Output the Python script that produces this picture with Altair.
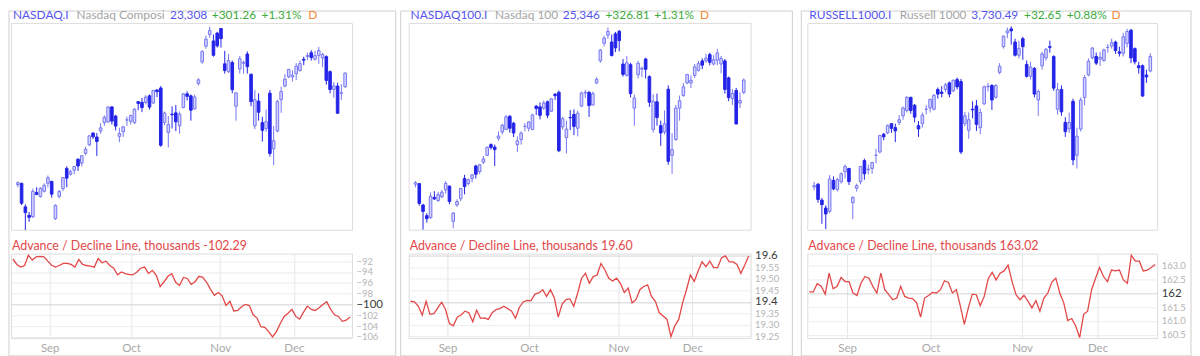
import altair as alt
import pandas as pd

# ---------------- data ----------------
MONTHS = ["Sep", "Oct", "Nov", "Dec"]
MONTH_TICKS = [9.5, 30.5, 53.5, 72.5]   # boundaries between trading days (index scale)

NASDAQ_O = [21600,21620,21260,21130,21110,21480,21420,21500,21620,21650,
            21080,21420,21540,21850,21760,21820,21990,21930,22080,22210,
            22390,22330,22420,22550,22560,22790,22650,22340,22410,22590,
            22570,22550,22870,22860,22860,22960,22850,23050,23080,22550,
            22400,22680,22700,22500,22780,22990,22960,22760,23150,23480,
            23720,23900,23800,23920,23990,23450,23330,23470,22800,23370,
            23460,23600,23290,22500,22880,22550,22460,23000,22150,22420,
            22900,23110,23250,23250,23300,23350,23520,23560,23620,23520,
            23580,23540,23560,23330,23060,23110,23000,23100]
NASDAQ_H = [21650,21630,21300,21180,21540,21560,21560,21620,21740,21660,
            21300,21520,21710,21880,21830,21880,22000,22050,22180,22350,
            22400,22390,22540,22660,22800,22800,22670,22470,22500,22640,
            22670,22770,22880,22930,22970,22980,23050,23060,23110,22720,
            22650,22800,22820,22720,23000,23030,22980,22980,23230,23660,
            23880,24020,23900,23940,24000,23650,23600,23500,23010,23570,
            23500,23640,23300,23050,23000,22640,22750,23050,22500,22900,
            23100,23290,23370,23350,23460,23500,23560,23620,23660,23650,
            23710,23620,23580,23350,23170,23160,23140,23320]
NASDAQ_L = [21560,21290,20906,21030,21090,21440,21400,21480,21560,21400,
            21060,21390,21500,21560,21740,21760,21810,21880,22050,22190,
            22300,22040,22380,22500,22550,22520,22430,22250,22330,22500,
            22520,22530,22740,22710,22830,22750,22840,22940,22180,22510,
            22170,22460,22420,22380,22770,22890,22580,22750,23120,23450,
            23680,23850,23560,23700,23700,23300,23310,23000,22580,23300,
            23300,23300,22800,22450,22580,22260,22410,22030,21900,22400,
            22700,23090,23230,23180,23200,23330,23430,23510,23500,23500,
            23450,23400,23130,23000,22930,22690,22900,23080]
NASDAQ_C = [21629,21315,21172,21100,21497,21449,21544,21590,21705,21455,
            21280,21497,21707,21700,21798,21879,21886,22043,22141,22348,
            22333,22261,22470,22631,22788,22573,22497,22384,22484,22591,
            22660,22755,22844,22780,22941,22788,23043,23024,22204,22695,
            22521,22670,22562,22680,22991,22953,22740,22942,23205,23637,
            23827,23958,23581,23725,23835,23349,23500,23054,23005,23528,
            23468,23406,22871,22901,22709,22432,22564,22078,22273,22872,
            23026,23215,23366,23276,23414,23454,23506,23578,23546,23576,
            23654,23594,23195,23057,23111,22693,23006,23308]

NDX_O = [23690,23700,23360,23190,23160,23480,23430,23490,23600,23660,
         23100,23360,23460,23780,23700,23780,23980,23890,24040,24150,
         24320,24280,24420,24520,24560,24770,24660,24320,24400,24610,
         24580,24560,24930,24920,24900,25000,24850,25120,25150,24600,
         24430,24750,24800,24580,24930,25140,25150,24950,25300,25650,
         25930,26060,25950,26080,26120,25600,25420,25590,24900,25430,
         25520,25680,25400,24560,25000,24620,24520,25200,24150,24400,
         24900,25100,25300,25300,25420,25500,25650,25650,25750,25600,
         25660,25600,25650,25380,25050,25180,24980,25150]
NDX_H = [23740,23710,23380,23230,23560,23580,23570,23600,23740,23670,
         23250,23450,23630,23840,23780,23850,24000,24010,24140,24290,
         24340,24320,24530,24650,24790,24790,24680,24450,24530,24660,
         24690,24810,24950,24990,25020,25020,25060,25140,25180,24760,
         24700,24870,24880,24860,25160,25190,25170,25160,25390,25840,
         26050,26180,26070,26110,26140,25680,25730,25620,25120,25650,
         25560,25700,25420,25120,25130,24700,24860,25260,24500,24950,
         25100,25300,25440,25420,25600,25650,25690,25760,25780,25740,
         25840,25730,25680,25400,25200,25220,25150,25370]
NDX_L = [23640,23350,22970,23080,23140,23440,23410,23470,23540,23370,
         22990,23330,23420,23530,23670,23720,23780,23850,24010,24140,
         24240,23980,24380,24480,24550,24510,24440,24200,24320,24530,
         24530,24550,24790,24720,24870,24740,24840,25030,24200,24560,
         24180,24550,24470,24450,24920,25060,24760,24940,25280,25620,
         25880,26000,25720,25790,25800,25400,25400,25070,24620,25370,
         25390,25370,24920,24510,24620,24300,24480,24000,23855,24380,
         24700,25080,25280,25220,25380,25480,25520,25620,25580,25580,
         25580,25450,25130,25010,24950,24640,24900,25120]
NDX_C = [23713,23385,23257,23143,23498,23457,23525,23565,23703,23415,
         23232,23415,23623,23653,23762,23839,23849,24000,24092,24276,
         24275,24240,24455,24626,24761,24580,24504,24380,24503,24611,
         24680,24791,24893,24785,24979,24786,25046,25098,24222,24733,
         24566,24746,24609,24818,25140,25150,24940,25130,25358,25822,
         26012,26119,25735,25858,25972,25435,25620,25130,25060,25612,
         25533,25517,24993,25008,24750,24504,24650,24054,24240,24900,
         25018,25237,25435,25342,25556,25607,25582,25693,25628,25668,
         25776,25688,25197,25067,25132,24648,25020,25346]

R1000_O = [3532,3536,3512,3500,3495,3542,3528,3540,3555,3560,
           3508,3530,3540,3572,3558,3560,3580,3585,3612,3614,
           3628,3622,3630,3640,3648,3668,3656,3625,3628,3650,
           3652,3650,3680,3676,3680,3690,3678,3695,3692,3628,
           3618,3650,3655,3622,3658,3684,3686,3668,3706,3745,
           3766,3772,3752,3732,3757,3718,3700,3712,3664,3716,
           3728,3745,3730,3650,3680,3630,3620,3662,3580,3620,
           3668,3702,3728,3730,3726,3724,3744,3746,3752,3737,
           3735,3750,3770,3742,3716,3716,3702,3708]
R1000_H = [3540,3538,3515,3504,3550,3548,3546,3554,3566,3561,
           3518,3537,3564,3575,3566,3570,3590,3611,3614,3627,
           3629,3628,3641,3654,3670,3669,3658,3632,3645,3656,
           3666,3673,3683,3685,3690,3692,3695,3698,3696,3646,
           3645,3662,3664,3651,3686,3690,3688,3688,3720,3762,
           3774,3776,3757,3754,3760,3724,3722,3714,3680,3737,
           3743,3754,3732,3690,3686,3638,3645,3666,3622,3668,
           3702,3727,3744,3736,3737,3742,3749,3757,3754,3745,
           3766,3772,3772,3744,3722,3718,3710,3735]
R1000_L = [3527,3508,3476,3468,3492,3527,3525,3537,3545,3535,
           3483,3525,3536,3543,3551,3552,3568,3583,3603,3612,
           3614,3600,3626,3634,3645,3643,3630,3608,3622,3642,
           3645,3648,3666,3668,3676,3668,3676,3680,3582,3624,
           3605,3636,3617,3612,3657,3677,3649,3666,3703,3742,
           3758,3748,3730,3727,3725,3698,3695,3668,3640,3710,
           3724,3736,3678,3642,3640,3608,3614,3565,3560,3616,
           3656,3700,3726,3717,3716,3722,3736,3742,3734,3730,
           3730,3744,3720,3718,3704,3669,3690,3706]
R1000_C = [3534,3513,3505,3491,3544,3529,3543,3552,3563,3540,
           3516,3534,3563,3552,3559,3569,3580,3610,3608,3625,
           3621,3617,3634,3652,3668,3648,3638,3620,3641,3650,
           3665,3671,3673,3674,3687,3673,3694,3684,3585,3640,
           3634,3649,3627,3645,3684,3685,3664,3686,3715,3761,
           3769,3769,3732,3742,3745,3700,3714,3673,3677,3734,
           3741,3744,3682,3680,3646,3616,3630,3573,3609,3664,
           3698,3723,3743,3720,3729,3740,3744,3751,3739,3735,
           3760,3768,3728,3722,3713,3670,3699,3730]

AD_NASDAQ = [-91.6,-92.6,-93.1,-92.8,-90.9,-91.8,-91.2,-91.1,-91.2,-92.0,
             -92.75,-93.1,-92.8,-92.4,-92.4,-92.6,-93.1,-91.7,-92.6,-92.8,
             -92.9,-93.1,-91.5,-92.3,-92.0,-92.8,-93.3,-94.5,-94.0,-94.3,
             -94.5,-94.5,-94.0,-93.3,-93.1,-94.3,-93.7,-94.6,-96.7,-95.8,
             -94.8,-94.3,-95.9,-96.5,-95.0,-95.2,-96.3,-95.8,-94.8,-95.0,
             -95.9,-97.2,-98.3,-97.8,-98.4,-100.2,-99.4,-101.2,-101.1,-100.4,
             -100.0,-100.2,-101.9,-102.5,-104.1,-104.2,-105.0,-106.0,-105.0,-103.5,
             -102.2,-101.6,-100.9,-102.2,-102.7,-101.4,-100.3,-100.9,-101.1,-100.6,
             -100.0,-99.5,-100.9,-101.9,-102.2,-103.1,-102.9,-102.29]
AD_NDX = [19.403,19.400,19.381,19.343,19.403,19.346,19.349,19.374,19.399,19.367,
          19.306,19.296,19.334,19.343,19.360,19.353,19.314,19.364,19.329,19.331,
          19.324,19.353,19.367,19.371,19.381,19.371,19.360,19.329,19.377,19.400,
          19.407,19.406,19.434,19.439,19.453,19.424,19.453,19.417,19.334,19.391,
          19.410,19.413,19.381,19.439,19.503,19.524,19.481,19.510,19.517,19.567,
          19.539,19.503,19.491,19.503,19.481,19.441,19.460,19.396,19.410,19.453,
          19.467,19.474,19.424,19.403,19.353,19.339,19.324,19.249,19.296,19.324,
          19.396,19.453,19.517,19.489,19.534,19.574,19.553,19.577,19.549,19.549,
          19.591,19.600,19.574,19.574,19.563,19.524,19.560,19.600]
AD_R1000 = [162.04,162.04,162.33,162.24,161.96,162.71,162.15,162.24,162.56,162.41,
            162.41,162.00,161.91,162.35,162.59,162.53,162.24,162.00,162.71,162.12,
            161.94,161.76,161.82,162.24,161.88,161.82,161.80,161.65,161.14,161.82,
            161.91,162.02,162.00,162.12,162.44,162.38,162.00,162.12,161.53,160.88,
            161.47,161.96,161.94,161.55,161.88,162.51,162.74,162.47,162.71,162.79,
            163.00,162.41,161.94,161.76,161.92,161.71,161.47,161.73,161.35,161.82,
            162.00,162.39,162.53,162.00,161.65,161.02,161.09,160.82,160.41,161.24,
            161.35,162.12,162.53,162.91,162.59,162.41,162.82,162.79,162.82,162.47,
            162.35,163.35,163.14,163.14,162.79,162.82,162.91,163.02]

NASDAQ_TICKS = [21000,21200,21400,21600,21800,22000,22200,22400,22600,22800,
                23000,23200,23400,23600,23800,24000]
NDX_TICKS = [23000,23200,23400,23600,23800,24000,24200,24400,24600,24800,
             25000,25200,25400,25600,25800,26000,26200]
R1000_TICKS = [3480,3500,3520,3540,3560,3580,3600,3620,3640,3660,3680,
               3700,3720,3740,3760,3780]
AD_NASDAQ_TICKS = [-92,-94,-96,-98,-100,-102,-104,-106]
AD_NDX_TICKS = [19.25,19.30,19.35,19.40,19.45,19.50,19.55,19.60]
AD_R1000_TICKS = [160.5,161.0,161.5,162.0,162.5,163.0]

# ---------------- style ----------------
FONT = "Lato"
BLUE_T = "#5555ee"
GRAY_T = "#a4a4a4"
GREEN_T = "#3daa3d"
ORANGE_T = "#f28a3a"
RED = "#e34848"
DARK = "#2424e8"
MID = "#7676f2"
LIGHT = "#d4d4fc"

N = len(NASDAQ_C)
XSCALE = alt.Scale(domain=[-0.5, N - 0.5], nice=False, zero=False)
one = pd.DataFrame({"k": [0]})
month_expr = " : ".join(
    f"datum.value < {MONTH_TICKS[j] + 1} ? '{MONTHS[j]}'" for j in range(len(MONTHS) - 1)
) + f" : '{MONTHS[-1]}'"


def cond(test, a, b):
    return {"condition": {"test": test, "value": a}, "value": b}


def y_axis(ticks, major, big, small, fmt=None, expr=None):
    kw = dict(orient="right", values=ticks, title=None, domain=False, ticks=False,
              labelPadding=4, labelOverlap=False, labelFont=FONT,
              labelColor=cond(major, "#3a3a3a", "#b4b4b4"),
              labelFontSize=cond(major, big, small),
              gridColor=cond(major, "#d4d4d4", "#ececec"))
    if fmt:
        kw["format"] = fmt
    if expr:
        kw["labelExpr"] = expr
    return alt.Axis(**kw)


def text_layer(txt, x, y, color, size=12, baseline="alphabetic"):
    return alt.Chart(one).mark_text(
        text=txt, align="left", baseline=baseline, font=FONT, fontSize=size, color=color
    ).encode(x=alt.value(x), y=alt.value(y))


def panel(O, H, L, C, AD, W, ydom, yticks, ymajor, adom, aticks, amajor, aexpr,
          segments, ad_title, box):
    df = pd.DataFrame({"i": list(range(N)), "o": O, "h": H, "l": L, "c": C})
    dfa = pd.DataFrame({"i": list(range(N)), "v": AD})
    down = "datum.c < datum.o"
    x_top = alt.X("i:Q", scale=XSCALE,
                  axis=alt.Axis(values=MONTH_TICKS, labels=False, ticks=False, domain=False,
                                grid=True, gridColor="#e6e6e6", title=None))
    yscale = alt.Scale(domain=ydom, nice=False, zero=False)
    frame = alt.Chart(one).mark_rect(fillOpacity=0, stroke="#cfcfcf", strokeWidth=1).encode(
        x=alt.value(box[0]), x2=alt.value(W + box[1]), y=alt.value(-12), y2=alt.value(335))
    wicks = alt.Chart(df).mark_rule(strokeWidth=1).encode(
        x=x_top,
        y=alt.Y("l:Q", scale=yscale, axis=y_axis(yticks, ymajor, 13, 10.5, fmt=",")),
        y2="h:Q",
        color=alt.condition(down, alt.value(DARK), alt.value(MID)))
    bodies = alt.Chart(df).mark_bar(size=2.6, strokeWidth=1).encode(
        x=alt.X("i:Q", scale=XSCALE, axis=None),
        y=alt.Y("o:Q", scale=yscale, axis=None),
        y2="c:Q",
        fill=alt.condition(down, alt.value(DARK), alt.value(LIGHT)),
        stroke=alt.condition(down, alt.value(DARK), alt.value(MID)))
    titles = [text_layer(t, x, -3.5, col) for (x, t, col) in segments]
    top = alt.layer(frame, wicks, bodies, *titles).properties(width=W, height=208)

    line = alt.Chart(dfa).mark_line(color=RED, strokeWidth=1.3).encode(
        x=alt.X("i:Q", scale=XSCALE,
                axis=alt.Axis(values=MONTH_TICKS, labelExpr=month_expr, ticks=False,
                              domain=False, grid=True, gridColor="#e6e6e6", title=None,
                              labelColor="#a8a8a8", labelFontSize=11.5, labelFont=FONT,
                              labelPadding=5, labelFlush=False)),
        y=alt.Y("v:Q", scale=alt.Scale(domain=adom, nice=False, zero=False),
                axis=y_axis(aticks, amajor, 11.5, 9.5, expr=aexpr)))
    atitle = text_layer(ad_title, 1, -8, RED, size=12.5, baseline="middle")
    bottom = alt.layer(line, atitle).properties(width=W, height=85)
    return top, bottom


t1, b1 = panel(NASDAQ_O, NASDAQ_H, NASDAQ_L, NASDAQ_C, AD_NASDAQ, 343,
               [20910, 24076], NASDAQ_TICKS, "datum.value % 1000 === 0",
               [-106.2, -90.6], AD_NASDAQ_TICKS, "datum.value % 10 === 0",
               "format(datum.value, 'd')",
               [(2, "NASDAQ.I", BLUE_T), (66, "Nasdaq Composi", GRAY_T), (160, "23,308", BLUE_T),
                (202, "+301.26", GREEN_T), (252, "+1.31%", GREEN_T), (299, "D", ORANGE_T)],
               "Advance / Decline Line, thousands -102.29", (-2, 44))
t2, b2 = panel(NDX_O, NDX_H, NDX_L, NDX_C, AD_NDX, 344,
               [22967, 26253], NDX_TICKS, "datum.value % 1000 === 0",
               [19.243, 19.61], AD_NDX_TICKS, "abs(datum.value*5 - round(datum.value*5)) < 0.001",
               "abs(datum.value*5 - round(datum.value*5)) < 0.001 ? format(datum.value, '.1f') : format(datum.value, '.2f')",
               [(2, "NASDAQ100.I", BLUE_T), (87, "Nasdaq 100", GRAY_T), (155, "25,346", BLUE_T),
                (198, "+326.81", GREEN_T), (247, "+1.31%", GREEN_T), (293, "D", ORANGE_T)],
               "Advance / Decline Line, thousands 19.60", (-8, 42))
t3, b3 = panel(R1000_O, R1000_H, R1000_L, R1000_C, AD_R1000, 352,
               [3467, 3781], R1000_TICKS, "datum.value % 100 === 0",
               [160.39, 163.41], AD_R1000_TICKS, "abs(datum.value/2 - round(datum.value/2)) < 0.001",
               "abs(datum.value/2 - round(datum.value/2)) < 0.001 ? format(datum.value, 'd') : format(datum.value, '.1f')",
               [(2, "RUSSELL1000.I", BLUE_T), (93, "Russell 1000", GRAY_T), (165, "3,730.49", BLUE_T),
                (218, "+32.65", GREEN_T), (261, "+0.88%", GREEN_T), (306, "D", ORANGE_T)],
               "Advance / Decline Line, thousands 163.02", (-6, 34))

chart = alt.concat(t1, t2, t3, b1, b2, b3, columns=3, bounds="flush", align="each",
                   spacing={"row": 24, "column": 57}).properties(
    padding=0, background="white"
).configure_view(stroke="#c4c4c4").configure(font=FONT)

chart.save("out.html", embed_options={"renderer": "svg", "actions": False})
